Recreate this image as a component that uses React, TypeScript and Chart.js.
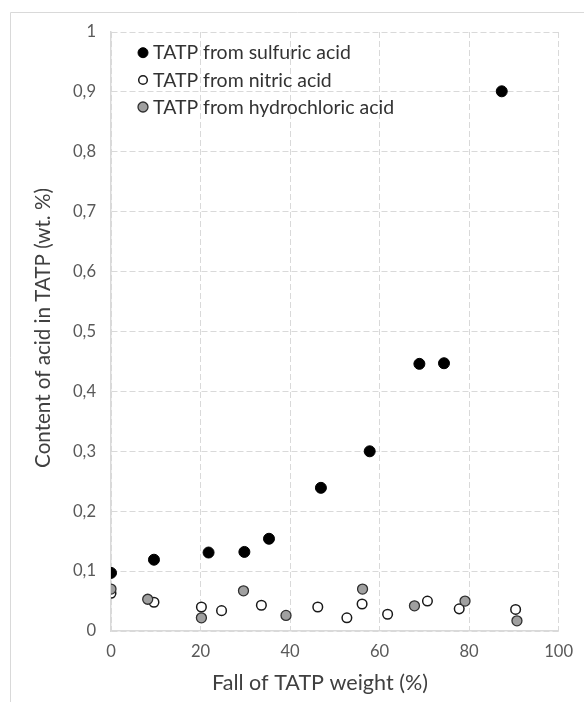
import React, { useEffect, useRef } from "react";
import { Chart, registerables } from "chart.js";

Chart.register(...registerables);

const seriesNames = [
  "TATP from sulfuric acid",
  "TATP from nitric acid",
  "TATP from hydrochloric acid",
];

const sulfuricX = [0, 9.6, 21.8, 29.8, 35.3, 46.9, 57.8, 68.9, 74.4, 87.3];
const sulfuricY = [0.097, 0.119, 0.131, 0.132, 0.154, 0.239, 0.3, 0.446, 0.447, 0.901];

const nitricX = [0, 9.6, 20.2, 24.7, 33.6, 46.2, 52.7, 56.1, 61.8, 70.7, 77.8, 90.4];
const nitricY = [0.063, 0.048, 0.04, 0.034, 0.043, 0.04, 0.022, 0.045, 0.028, 0.05, 0.037, 0.036];

const hydroX = [0, 8.2, 20.2, 29.6, 39.1, 56.2, 67.8, 79.1, 90.7];
const hydroY = [0.07, 0.053, 0.022, 0.067, 0.026, 0.07, 0.042, 0.05, 0.017];

const xTitle = "Fall of TATP weight (%)";
const yTitle = "Content of acid in TATP (wt. %)";

const FONT = "Lato";

const pts = (xs: number[], ys: number[]) => xs.map((x, i) => ({ x, y: ys[i] }));

function fitSize(text: string, target: number) {
  const c = document.createElement("canvas").getContext("2d")!;
  c.font = `100px ${FONT}`;
  return (100 * target) / c.measureText(text).width;
}

export default function App() {
  const ref = useRef<HTMLCanvasElement | null>(null);
  useEffect(() => {
    if (!ref.current) return;
    const legendSize = fitSize(seriesNames[0], 198);
    const xTitleSize = fitSize(xTitle, 216);
    const yTitleSize = fitSize(yTitle, 280);
    const tickSize = fitSize("0,9", 23);

    const overlay = {
      id: "overlay",
      afterDraw(chart: any) {
        const ctx = chart.ctx;
        ctx.save();
        // outer frame (top & left visible)
        ctx.strokeStyle = "#d9d9d9";
        ctx.lineWidth = 1;
        ctx.beginPath();
        ctx.moveTo(10.5, chart.height);
        ctx.lineTo(10.5, 12.5);
        ctx.lineTo(chart.width, 12.5);
        ctx.stroke();

        // legend
        const rows = [52.7, 80, 107];
        chart.data.datasets.forEach((ds: any, i: number) => {
          const y = rows[i];
          ctx.beginPath();
          ctx.arc(143, y, i === 1 ? 4.3 : 5, 0, Math.PI * 2);
          ctx.fillStyle = ds.pointBackgroundColor;
          ctx.fill();
          ctx.lineWidth = ds.pointBorderWidth;
          ctx.strokeStyle = ds.pointBorderColor;
          ctx.stroke();
          ctx.fillStyle = "#333333";
          ctx.font = `${legendSize}px ${FONT}`;
          ctx.textBaseline = "alphabetic";
          ctx.textAlign = "left";
          ctx.fillText(ds.label, 153, y + 6.6);
        });

        // axis titles
        ctx.fillStyle = "#404040";
        ctx.font = `${xTitleSize}px ${FONT}`;
        ctx.textAlign = "center";
        ctx.textBaseline = "alphabetic";
        ctx.fillText(xTitle, 320, 689.5);

        ctx.save();
        ctx.translate(49.5, 328);
        ctx.rotate(-Math.PI / 2);
        ctx.font = `${yTitleSize}px ${FONT}`;
        ctx.fillText(yTitle, 0, 0);
        ctx.restore();

        ctx.restore();
      },
    };

    const chart = new Chart(ref.current, {
      type: "scatter",
      data: {
        datasets: [
          {
            label: seriesNames[0],
            data: pts(sulfuricX, sulfuricY),
            pointBackgroundColor: "#000000",
            pointBorderColor: "#000000",
            pointBorderWidth: 1,
            pointRadius: 5.5,
            order: 0,
          },
          {
            label: seriesNames[1],
            data: pts(nitricX, nitricY),
            pointBackgroundColor: "#ffffff",
            pointBorderColor: "#1a1a1a",
            pointBorderWidth: 1.5,
            pointRadius: 4.8,
            order: 2,
          },
          {
            label: seriesNames[2],
            data: pts(hydroX, hydroY),
            pointBackgroundColor: "#a0a0a0",
            pointBorderColor: "#303030",
            pointBorderWidth: 1.3,
            pointRadius: 5,
            order: 1,
          },
        ],
      },
      options: {
        responsive: false,
        animation: false,
        layout: { padding: { top: 32, right: 23, left: 0, bottom: 0 } },
        plugins: { legend: { display: false }, tooltip: { enabled: false } },
        scales: {
          x: {
            type: "linear",
            min: 0,
            max: 100,
            afterFit: (s: any) => {
              s.height = 71;
            },
            ticks: {
              stepSize: 20,
              color: "#595959",
              font: { family: FONT, size: tickSize },
              padding: 11,
            },
            grid: { color: "#d9d9d9", drawTicks: false, lineWidth: 1 },
            border: { display: true, color: "#d9d9d9", width: 1.5, dash: [6, 3] },
            title: { display: false },
          },
          y: {
            type: "linear",
            min: 0,
            max: 1,
            afterFit: (s: any) => {
              s.width = 111;
            },
            ticks: {
              stepSize: 0.1,
              color: "#595959",
              font: { family: FONT, size: tickSize },
              padding: 15,
              callback: (v: any) => {
                const n = Number(v);
                if (Math.abs(n) < 1e-9) return "0";
                if (Math.abs(n - 1) < 1e-9) return "1";
                return n.toFixed(1).replace(".", ",");
              },
            },
            grid: { color: "#d9d9d9", drawTicks: false, lineWidth: 1 },
            border: { display: true, color: "#d9d9d9", width: 1.5, dash: [6, 3] },
            title: { display: false },
          },
        },
      },
      plugins: [overlay],
    });
    return () => chart.destroy();
  }, []);
  return (
    <div style={{ position: "fixed", left: 0, top: 0, width: 584, height: 702, background: "#fff" }}>
      <canvas ref={ref} width={584} height={702} style={{ width: 584, height: 702, display: "block" }} />
    </div>
  );
}
